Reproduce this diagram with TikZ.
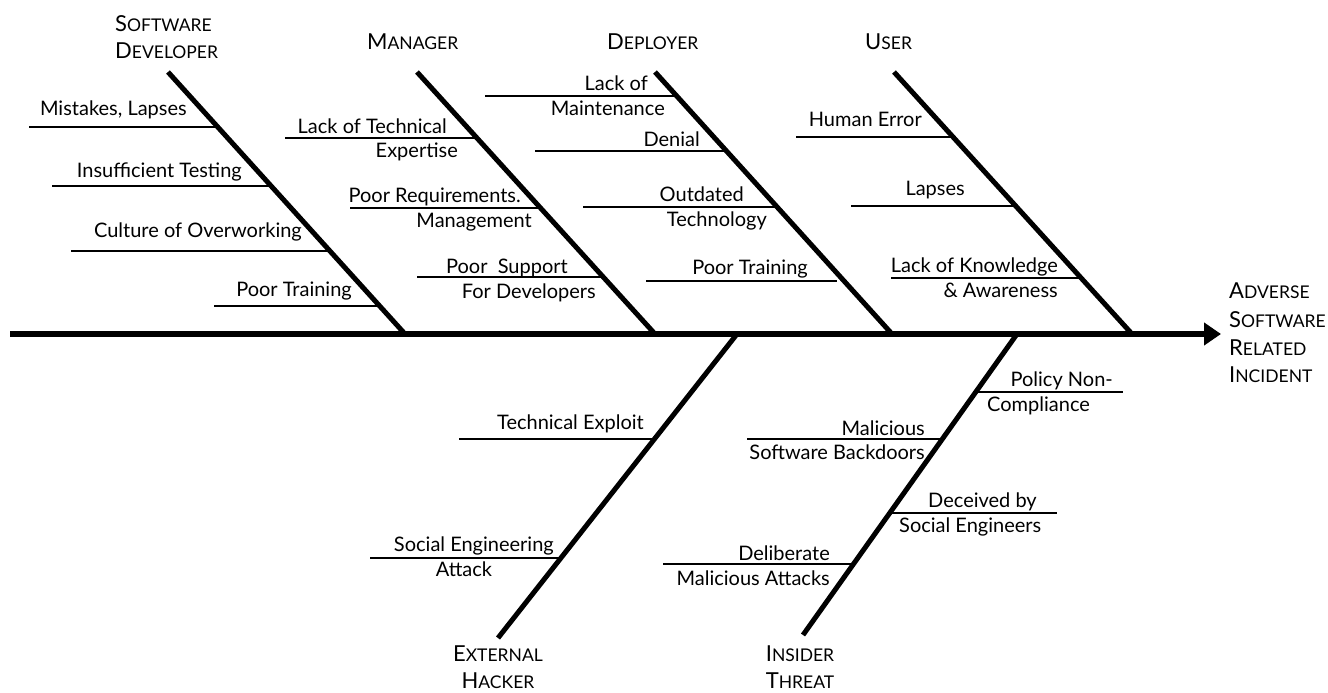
\documentclass[tikz,border=0pt]{standalone}
\usepackage{fontspec}
\setmainfont{Lato}
\usetikzlibrary{arrows.meta}
\newcommand{\capsc}[2]{{\fontsize{22}{26}\selectfont #1}{\fontsize{17.5}{21}\selectfont #2}}
\begin{document}
\begin{tikzpicture}[x=1pt,y=-1pt,
  rib/.style={line width=5pt},
  spine/.style={line width=5.5pt,-{Triangle[length=17pt,width=22pt]}},
  twig/.style={line width=2pt},
  lbl/.style={inner sep=0pt,font=\fontsize{20}{24}\selectfont},
  hdr/.style={inner sep=0pt}]
\useasboundingbox (0,0) rectangle (1328,693);

% spine and ribs
\coordinate (sp0) at (10,334);
\coordinate (head) at (1221,334);
\coordinate (sdT) at (168,72);  \coordinate (sdB) at (405,334);
\coordinate (mgT) at (417,72);  \coordinate (mgB) at (655,334);
\coordinate (dpT) at (655,72);  \coordinate (dpB) at (892,334);
\coordinate (usT) at (894,72);  \coordinate (usB) at (1132,334);
\coordinate (ehT) at (737,334); \coordinate (ehB) at (498,638);
\coordinate (itT) at (1017,334);\coordinate (itB) at (803,635);

\draw[spine] (sp0) -- (head);
\draw[rib] (sdT) -- (sdB);
\draw[rib] (mgT) -- (mgB);
\draw[rib] (dpT) -- (dpB);
\draw[rib] (usT) -- (usB);
\draw[rib] (ehT) -- (ehB);
\draw[rib] (itT) -- (itB);

% twigs
\coordinate (sd1a) at (29,127);  \coordinate (sd1b) at (218,127);
\coordinate (sd2a) at (52,186);  \coordinate (sd2b) at (272,186);
\coordinate (sd3a) at (71,251);  \coordinate (sd3b) at (331,251);
\coordinate (sd4a) at (214,306); \coordinate (sd4b) at (381,306);
\coordinate (mg1a) at (285,138); \coordinate (mg1b) at (477,138);
\coordinate (mg2a) at (350,208); \coordinate (mg2b) at (541,208);
\coordinate (mg3a) at (417,277); \coordinate (mg3b) at (605,277);
\coordinate (dp1a) at (485,96);  \coordinate (dp1b) at (677,96);
\coordinate (dp2a) at (535,151); \coordinate (dp2b) at (727,151);
\coordinate (dp3a) at (583,207); \coordinate (dp3b) at (778,207);
\coordinate (dp4a) at (646,281); \coordinate (dp4b) at (837,281);
\coordinate (us1a) at (796,137); \coordinate (us1b) at (953,137);
\coordinate (us2a) at (851,206); \coordinate (us2b) at (1017,206);
\coordinate (us3a) at (891,278); \coordinate (us3b) at (1083,278);
\coordinate (eh1a) at (459,439); \coordinate (eh1b) at (655,439);
\coordinate (eh2a) at (370,558); \coordinate (eh2b) at (561,558);
\coordinate (it1a) at (977,392); \coordinate (it1b) at (1123,392);
\coordinate (it2a) at (747,439); \coordinate (it2b) at (943,439);
\coordinate (it3a) at (890,513); \coordinate (it3b) at (1057,513);
\coordinate (it4a) at (663,564); \coordinate (it4b) at (854,564);
\foreach \t in {sd1,sd2,sd3,sd4,mg1,mg2,mg3,dp1,dp2,dp3,dp4,us1,us2,us3,eh1,eh2,it1,it2,it3,it4}
  \draw[twig] (\t a) -- (\t b);

% labels: software developer
\node[lbl,anchor=base east] (sd1t) at (187,115) {Mistakes, Lapses};
\node[lbl,anchor=base east] (sd2t) at (242,177) {Insufficient Testing};
\node[lbl,anchor=base east] (sd3t) at (302,237) {Culture of Overworking};
\node[lbl,anchor=base east] (sd4t) at (352,296) {Poor Training};
% manager
\node[lbl,anchor=base east] (mg1t) at (447,133) {Lack of Technical};
\node[lbl,anchor=base east] (mg1u) at (458,157) {Expertise};
\node[lbl,anchor=base east] (mg2t) at (521,202) {Poor Requirements.};
\node[lbl,anchor=base east] (mg2u) at (532,227) {Management};
\node[lbl,anchor=base east] (mg3t) at (568,273) {Poor\ \ Support};
\node[lbl,anchor=base east] (mg3u) at (596,298) {For Developers};
% deployer
\node[lbl,anchor=base east] (dp1t) at (648,90) {Lack of};
\node[lbl,anchor=base east] (dp1u) at (665,115) {Maintenance};
\node[lbl,anchor=base east] (dp2t) at (700,146) {Denial};
\node[lbl,anchor=base east] (dp3t) at (744,201) {Outdated};
\node[lbl,anchor=base east] (dp3u) at (767,226) {Technology};
\node[lbl,anchor=base east] (dp4t) at (808,274) {Poor Training};
% user
\node[lbl,anchor=base east] (us1t) at (922,126) {Human Error};
\node[lbl,anchor=base east] (us2t) at (965,195) {Lapses};
\node[lbl,anchor=base east] (us3t) at (1058,272) {Lack of Knowledge};
\node[lbl,anchor=base east] (us3u) at (1058,297) {\& Awareness};
% external hacker
\node[lbl,anchor=base east] (eh1t) at (644,429) {Technical Exploit};
\node[lbl,anchor=base east] (eh2t) at (554,551) {Social Engineering};
\node[lbl,anchor=base] (eh2u) at (464,576) {Attack};
% insider threat
\node[lbl,anchor=base east] (it1t) at (1113,386) {Policy Non-};
\node[lbl,anchor=base west] (it1u) at (987,411) {Compliance};
\node[lbl,anchor=base east] (it2t) at (925,435) {Malicious};
\node[lbl,anchor=base east] (it2u) at (925,459) {Software Backdoors};
\node[lbl,anchor=base west] (it3t) at (928,507) {Deceived by};
\node[lbl,anchor=base west] (it3u) at (899,532) {Social Engineers};
\node[lbl,anchor=base east] (it4t) at (830,560) {Deliberate};
\node[lbl,anchor=base east] (it4u) at (830,585) {Malicious Attacks};

% headers
\node[hdr,anchor=base west] (sdh1) at (115,32) {\capsc{S}{OFTWARE}};
\node[hdr,anchor=base west] (sdh2) at (115,59) {\capsc{D}{EVELOPER}};
\node[hdr,anchor=base west] (mgh) at (367,50) {\capsc{M}{ANAGER}};
\node[hdr,anchor=base west] (dph) at (607,50) {\capsc{D}{EPLOYER}};
\node[hdr,anchor=base west] (ush) at (865,50) {\capsc{U}{SER}};
\node[hdr,anchor=base west] (ad1) at (1229,298) {\capsc{A}{DVERSE}};
\node[hdr,anchor=base west] (ad2) at (1229,327) {\capsc{S}{OFTWARE}};
\node[hdr,anchor=base west] (ad3) at (1229,355) {\capsc{R}{ELATED}};
\node[hdr,anchor=base west] (ad4) at (1229,382) {\capsc{I}{NCIDENT}};
\node[hdr,anchor=base] (ehh1) at (498,661) {\capsc{E}{XTERNAL}};
\node[hdr,anchor=base] (ehh2) at (498,688) {\capsc{H}{ACKER}};
\node[hdr,anchor=base] (ith1) at (800,661) {\capsc{I}{NSIDER}};
\node[hdr,anchor=base] (ith2) at (800,688) {\capsc{T}{HREAT}};
\end{tikzpicture}
\end{document}
